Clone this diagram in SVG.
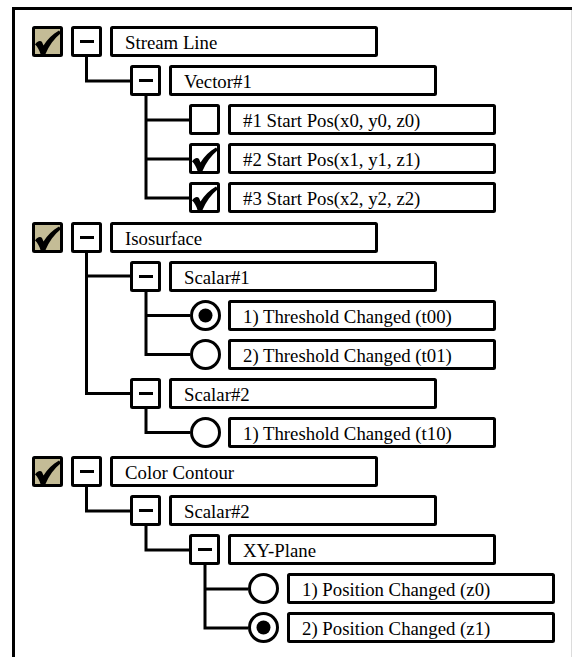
<svg xmlns="http://www.w3.org/2000/svg" xmlns:xlink="http://www.w3.org/1999/xlink" width="572" height="657" viewBox="0 0 572 657">
<style>
.box{fill:#fff;stroke:#000;stroke-width:3}
.tan{fill:#c4bc96;stroke:#000;stroke-width:3}
.lbl{fill:#fff;stroke:#000;stroke-width:3}
.txt{font-family:"Liberation Serif","Times New Roman",serif;font-size:18.8px;fill:#000}
.conn{fill:none;stroke:#000;stroke-width:3;stroke-linejoin:miter}
</style>
<defs>
<path id="chk" d="M3,18.5 C5,15 8.5,14 10,16 L11.5,19.5 C15.5,13 20.5,8 27,4.5 L29,7 C22,12.5 17,19.5 13.5,28 L8.5,28 C7.5,24.5 5.5,20.5 3,18.5 Z" fill="#000"/>
<g id="tanchk"><rect class="tan" x="1.5" y="1.5" width="28" height="28" rx="1"/><use xlink:href="#chk"/></g>
<g id="whchk"><rect class="box" x="1.5" y="1.5" width="28" height="28" rx="1"/><use xlink:href="#chk"/></g>
<g id="empty"><rect class="box" x="1.5" y="1.5" width="28" height="28" rx="1"/></g>
<g id="minus"><rect class="box" x="1.5" y="1.5" width="28" height="28" rx="1"/><rect x="9" y="14" width="14" height="3" fill="#000"/></g>
<g id="radoff"><circle class="box" cx="15.5" cy="15.5" r="14"/></g>
<g id="radon"><circle class="box" cx="15.5" cy="15.5" r="14"/><circle cx="15.5" cy="15.5" r="7" fill="#000"/></g>
<rect id="lb" class="lbl" x="1.5" y="1.5" width="265" height="28" rx="1"/>
</defs>
<g id="frame">
<line x1="12" y1="8.5" x2="572" y2="8.5" stroke="#000" stroke-width="3"/>
<line x1="13.5" y1="7" x2="13.5" y2="657" stroke="#000" stroke-width="3"/>
<line x1="571.5" y1="10" x2="571.5" y2="657" stroke="#dcdcdc" stroke-width="1"/>
</g>
<g id="connectors">
<path class="conn" d="M86.5,57 V81 H130"/>
<path class="conn" d="M146,96 V198 H189 M146,120 H189 M146,159 H189"/>
<path class="conn" d="M86.5,252 V393.5 H130 M86.5,276 H130"/>
<path class="conn" d="M146,291 V354.5 H190 M146,315.5 H190"/>
<path class="conn" d="M146,408 V432.5 H190"/>
<path class="conn" d="M86.5,486 V511 H130"/>
<path class="conn" d="M146,525 V550 H189"/>
<path class="conn" d="M205,564 V628 H248 M205,589 H248"/>
</g>
<g id="n-stream-line">
<use xlink:href="#tanchk" x="32" y="26"/><use xlink:href="#minus" x="71" y="26"/><use xlink:href="#lb" x="110" y="26"/>
<text class="txt" x="125" y="49">Stream Line</text>
</g>
<g id="n-vector1">
<use xlink:href="#minus" x="130" y="65"/><use xlink:href="#lb" x="169" y="65"/>
<text class="txt" x="184" y="88">Vector#1</text>
</g>
<g id="n-start1">
<use xlink:href="#empty" x="189" y="104"/><use xlink:href="#lb" x="228" y="104"/>
<text class="txt" x="243" y="127">#1 Start Pos(x0, y0, z0)</text>
</g>
<g id="n-start2">
<use xlink:href="#whchk" x="189" y="143"/><use xlink:href="#lb" x="228" y="143"/>
<text class="txt" x="243" y="166">#2 Start Pos(x1, y1, z1)</text>
</g>
<g id="n-start3">
<use xlink:href="#whchk" x="189" y="182"/><use xlink:href="#lb" x="228" y="182"/>
<text class="txt" x="243" y="205">#3 Start Pos(x2, y2, z2)</text>
</g>
<g id="n-isosurface">
<use xlink:href="#tanchk" x="32" y="222"/><use xlink:href="#minus" x="71" y="222"/><use xlink:href="#lb" x="110" y="222"/>
<text class="txt" x="125" y="245">Isosurface</text>
</g>
<g id="n-scalar1">
<use xlink:href="#minus" x="130" y="261"/><use xlink:href="#lb" x="169" y="261"/>
<text class="txt" x="184" y="284">Scalar#1</text>
</g>
<g id="n-t00">
<use xlink:href="#radon" x="190" y="300"/><use xlink:href="#lb" x="228" y="300"/>
<text class="txt" x="243" y="323">1) Threshold Changed (t00)</text>
</g>
<g id="n-t01">
<use xlink:href="#radoff" x="190" y="339"/><use xlink:href="#lb" x="228" y="339"/>
<text class="txt" x="243" y="362">2) Threshold Changed (t01)</text>
</g>
<g id="n-scalar2a">
<use xlink:href="#minus" x="130" y="378"/><use xlink:href="#lb" x="169" y="378"/>
<text class="txt" x="184" y="401">Scalar#2</text>
</g>
<g id="n-t10">
<use xlink:href="#radoff" x="190" y="417"/><use xlink:href="#lb" x="228" y="417"/>
<text class="txt" x="243" y="440">1) Threshold Changed (t10)</text>
</g>
<g id="n-color-contour">
<use xlink:href="#tanchk" x="32" y="456"/><use xlink:href="#minus" x="71" y="456"/><use xlink:href="#lb" x="110" y="456"/>
<text class="txt" x="125" y="479">Color Contour</text>
</g>
<g id="n-scalar2b">
<use xlink:href="#minus" x="130" y="495"/><use xlink:href="#lb" x="169" y="495"/>
<text class="txt" x="184" y="518">Scalar#2</text>
</g>
<g id="n-xy-plane">
<use xlink:href="#minus" x="189" y="534"/><use xlink:href="#lb" x="228" y="534"/>
<text class="txt" x="243" y="557">XY-Plane</text>
</g>
<g id="n-z0">
<use xlink:href="#radoff" x="248" y="573"/><use xlink:href="#lb" x="287" y="573"/>
<text class="txt" x="302" y="596">1) Position Changed (z0)</text>
</g>
<g id="n-z1">
<use xlink:href="#radon" x="248" y="612"/><use xlink:href="#lb" x="287" y="612"/>
<text class="txt" x="302" y="635">2) Position Changed (z1)</text>
</g>
</svg>
